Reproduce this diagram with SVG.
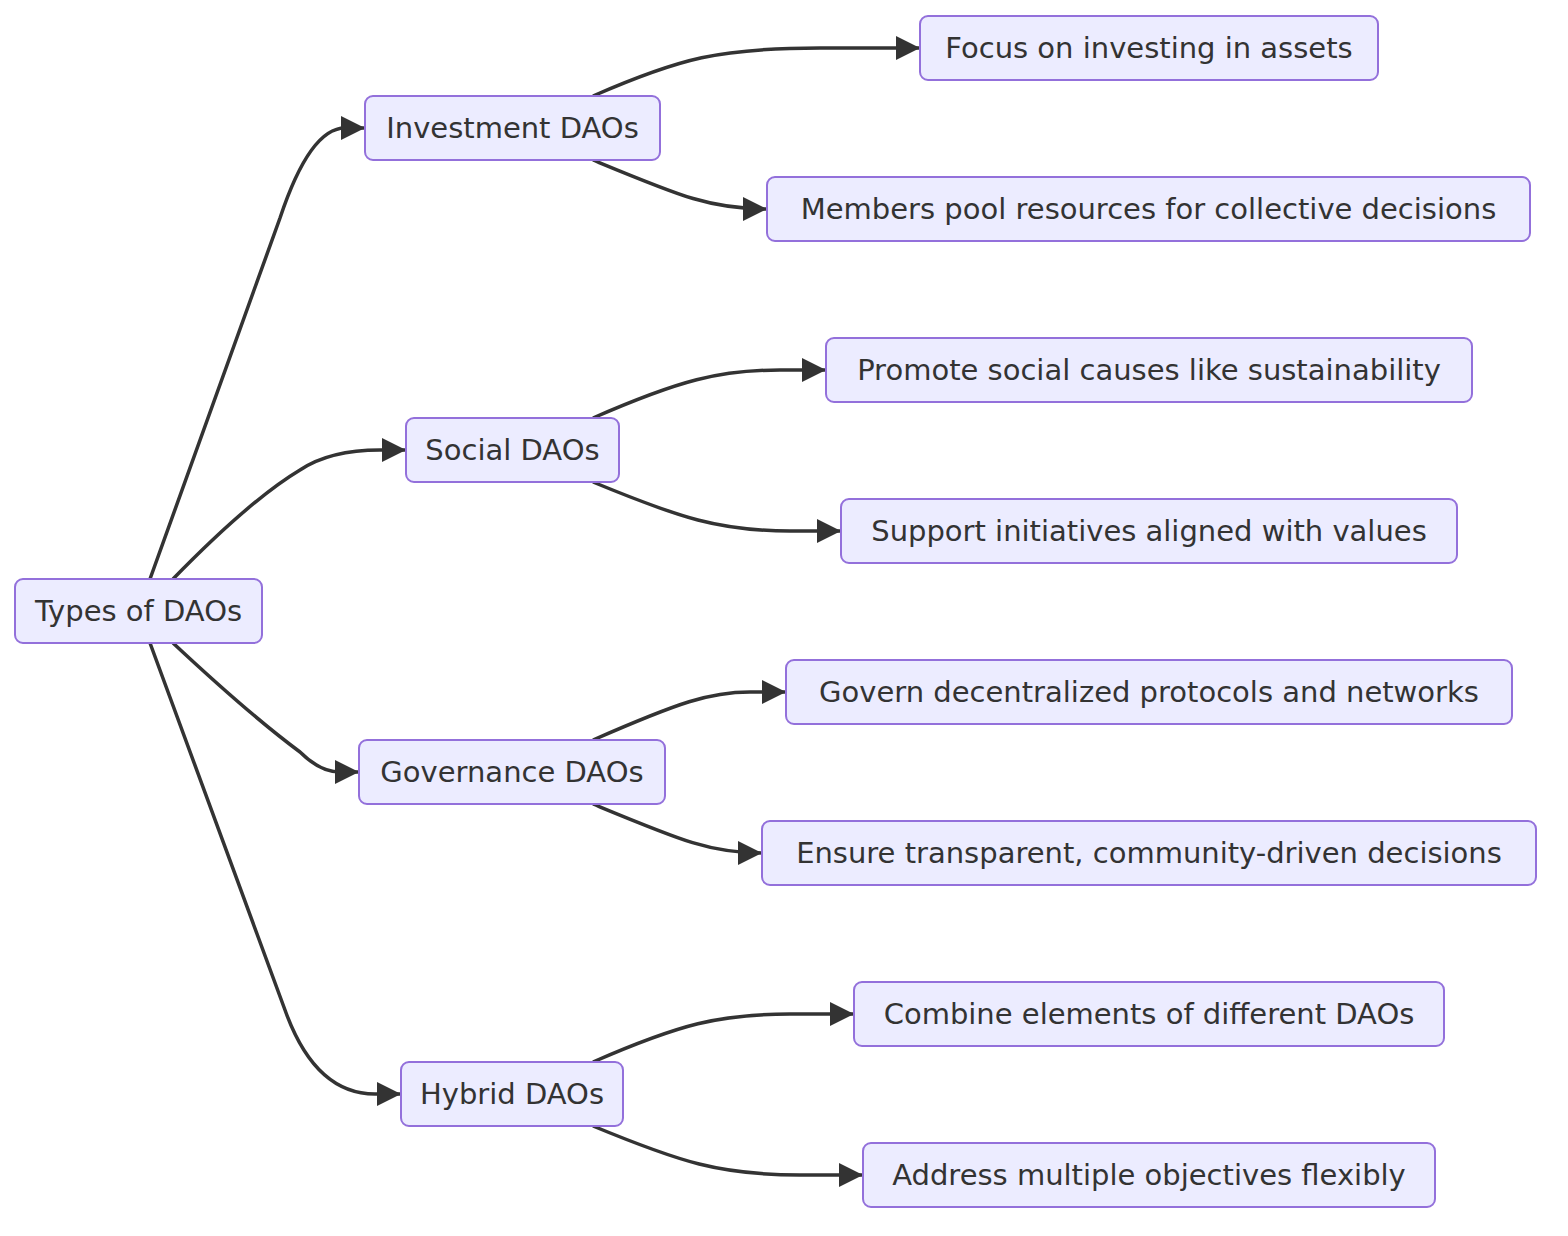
<svg xmlns="http://www.w3.org/2000/svg" width="1568" height="1236" viewBox="0 0 1568 1236">
<style>
.n rect{fill:#ECECFF;stroke:#9370DB;stroke-width:2}
.n text{font-family:"DejaVu Sans",sans-serif;font-size:29px;fill:#333;text-anchor:middle;dominant-baseline:central}
.e path{fill:none;stroke:#333;stroke-width:3.5}
</style>
<defs><marker id="a" markerUnits="userSpaceOnUse" markerWidth="24" markerHeight="24" viewBox="0 0 10 10" refX="10" refY="5" orient="auto"><path d="M0,0L10,5L0,10z" fill="#333"/></marker></defs>
<g class="e" marker-end="url(#a)">
<path d="M150,579 L280,218 Q310,128 345,128 L365,128" marker-end="url(#a)"/>
<path d="M173,579 Q250,500 300,470 Q330,450 380,450 L406,450" marker-end="url(#a)"/>
<path d="M173,643 Q250,715 300,752 Q320,772 340,772 L359,772" marker-end="url(#a)"/>
<path d="M150,643 L285,1010 Q315,1094 375,1094 L401,1094" marker-end="url(#a)"/>
<path d="M593,96 C680,58 720,48 820,48 L920,48" marker-end="url(#a)"/>
<path d="M593,160 C680,196 710,209 767,209" marker-end="url(#a)"/>
<path d="M593,418 C680,380 720,370 780,370 L826,370" marker-end="url(#a)"/>
<path d="M593,482 C680,518 720,531 790,531 L841,531" marker-end="url(#a)"/>
<path d="M593,740 C680,702 710,692 750,692 L786,692" marker-end="url(#a)"/>
<path d="M593,804 C680,840 710,853 762,853" marker-end="url(#a)"/>
<path d="M593,1062 C680,1024 720,1014 790,1014 L854,1014" marker-end="url(#a)"/>
<path d="M593,1126 C680,1162 720,1175 800,1175 L863,1175" marker-end="url(#a)"/>
</g>
<g id="root" class="n"><rect x="15" y="579" width="247" height="64" rx="8"/><text x="138.5" y="611">Types of DAOs</text></g>
<g id="inv" class="n"><rect x="365" y="96" width="295" height="64" rx="8"/><text x="512.5" y="128">Investment DAOs</text></g>
<g id="soc" class="n"><rect x="406" y="418" width="213" height="64" rx="8"/><text x="512.5" y="450">Social DAOs</text></g>
<g id="gov" class="n"><rect x="359" y="740" width="306" height="64" rx="8"/><text x="512" y="772">Governance DAOs</text></g>
<g id="hyb" class="n"><rect x="401" y="1062" width="222" height="64" rx="8"/><text x="512" y="1094">Hybrid DAOs</text></g>
<g id="l1" class="n"><rect x="920" y="16" width="458" height="64" rx="8"/><text x="1149" y="48">Focus on investing in assets</text></g>
<g id="l2" class="n"><rect x="767" y="177" width="763" height="64" rx="8"/><text x="1148.5" y="209">Members pool resources for collective decisions</text></g>
<g id="l3" class="n"><rect x="826" y="338" width="646" height="64" rx="8"/><text x="1149" y="370">Promote social causes like sustainability</text></g>
<g id="l4" class="n"><rect x="841" y="499" width="616" height="64" rx="8"/><text x="1149" y="531">Support initiatives aligned with values</text></g>
<g id="l5" class="n"><rect x="786" y="660" width="726" height="64" rx="8"/><text x="1149" y="692">Govern decentralized protocols and networks</text></g>
<g id="l6" class="n"><rect x="762" y="821" width="774" height="64" rx="8"/><text x="1149" y="853">Ensure transparent, community-driven decisions</text></g>
<g id="l7" class="n"><rect x="854" y="982" width="590" height="64" rx="8"/><text x="1149" y="1014">Combine elements of different DAOs</text></g>
<g id="l8" class="n"><rect x="863" y="1143" width="572" height="64" rx="8"/><text x="1149" y="1175">Address multiple objectives flexibly</text></g>
</svg>
